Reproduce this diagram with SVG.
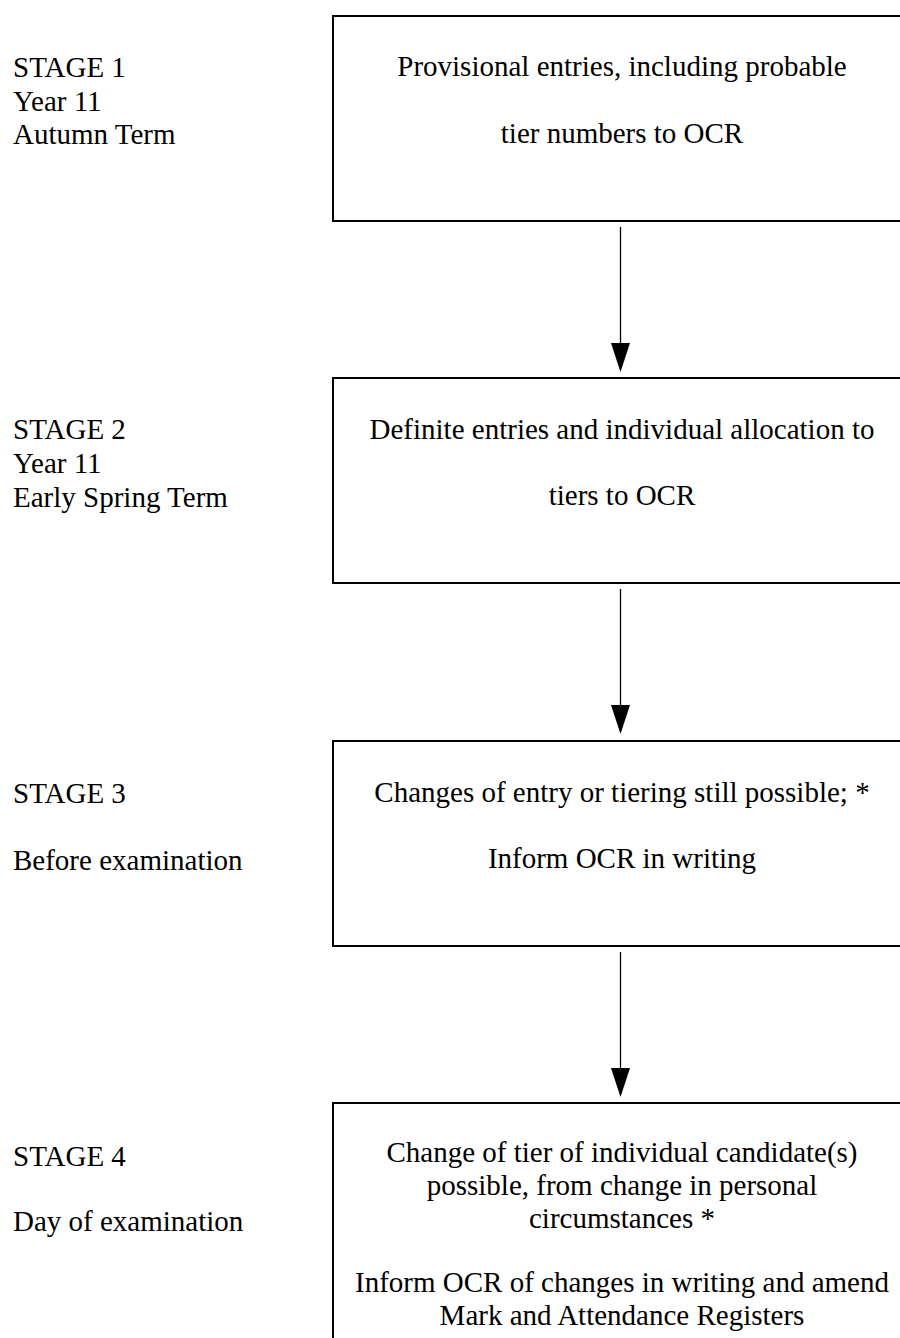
<svg xmlns="http://www.w3.org/2000/svg" width="900" height="1338" viewBox="0 0 900 1338">
<style>
text{font-family:'Liberation Serif','DejaVu Serif',serif;font-size:29px;fill:#000}
.c{text-anchor:middle}
.box{fill:#fff;stroke:#000;stroke-width:2}
.ln{stroke:#000;stroke-width:1.3;fill:none}
.hd{fill:#000}
</style>
<rect width="900" height="1338" fill="#fff"/>
<g id="labels" font-family="Liberation Serif, DejaVu Serif, serif">
<text x="13" y="77">STAGE 1</text>
<text x="13" y="111">Year 11</text>
<text x="13" y="144">Autumn Term</text>
<text x="13" y="439">STAGE 2</text>
<text x="13" y="473">Year 11</text>
<text x="13" y="507">Early Spring Term</text>
<text x="13" y="803">STAGE 3</text>
<text x="13" y="870">Before examination</text>
<text x="13" y="1166">STAGE 4</text>
<text x="13" y="1231">Day of examination</text>
</g>
<g id="node1">
<rect class="box" x="333" y="16" width="620" height="205"/>
<text class="c" x="622" y="76">Provisional entries, including probable</text>
<text class="c" x="622" y="143">tier numbers to OCR</text>
</g>
<g id="node2">
<rect class="box" x="333" y="378" width="620" height="205"/>
<text class="c" x="622" y="439">Definite entries and individual allocation to</text>
<text class="c" x="622" y="505">tiers to OCR</text>
</g>
<g id="node3">
<rect class="box" x="333" y="741" width="620" height="205"/>
<text class="c" x="622" y="802">Changes of entry or tiering still possible; *</text>
<text class="c" x="622" y="868">Inform OCR in writing</text>
</g>
<g id="node4">
<rect class="box" x="333" y="1103" width="620" height="300"/>
<text class="c" x="622" y="1162">Change of tier of individual candidate(s)</text>
<text class="c" x="622" y="1195">possible, from change in personal</text>
<text class="c" x="622" y="1228">circumstances *</text>
<text class="c" x="622" y="1292">Inform OCR of changes in writing and amend</text>
<text class="c" x="622" y="1325">Mark and Attendance Registers</text>
</g>
<g id="connectors">
<line class="ln" x1="620.5" y1="227" x2="620.5" y2="345"/>
<polygon class="hd" points="611,343 630,343 620.5,372"/>
<line class="ln" x1="620.5" y1="589" x2="620.5" y2="707"/>
<polygon class="hd" points="611,705 630,705 620.5,734"/>
<line class="ln" x1="620.5" y1="952" x2="620.5" y2="1070"/>
<polygon class="hd" points="611,1068 630,1068 620.5,1097"/>
</g>
</svg>
